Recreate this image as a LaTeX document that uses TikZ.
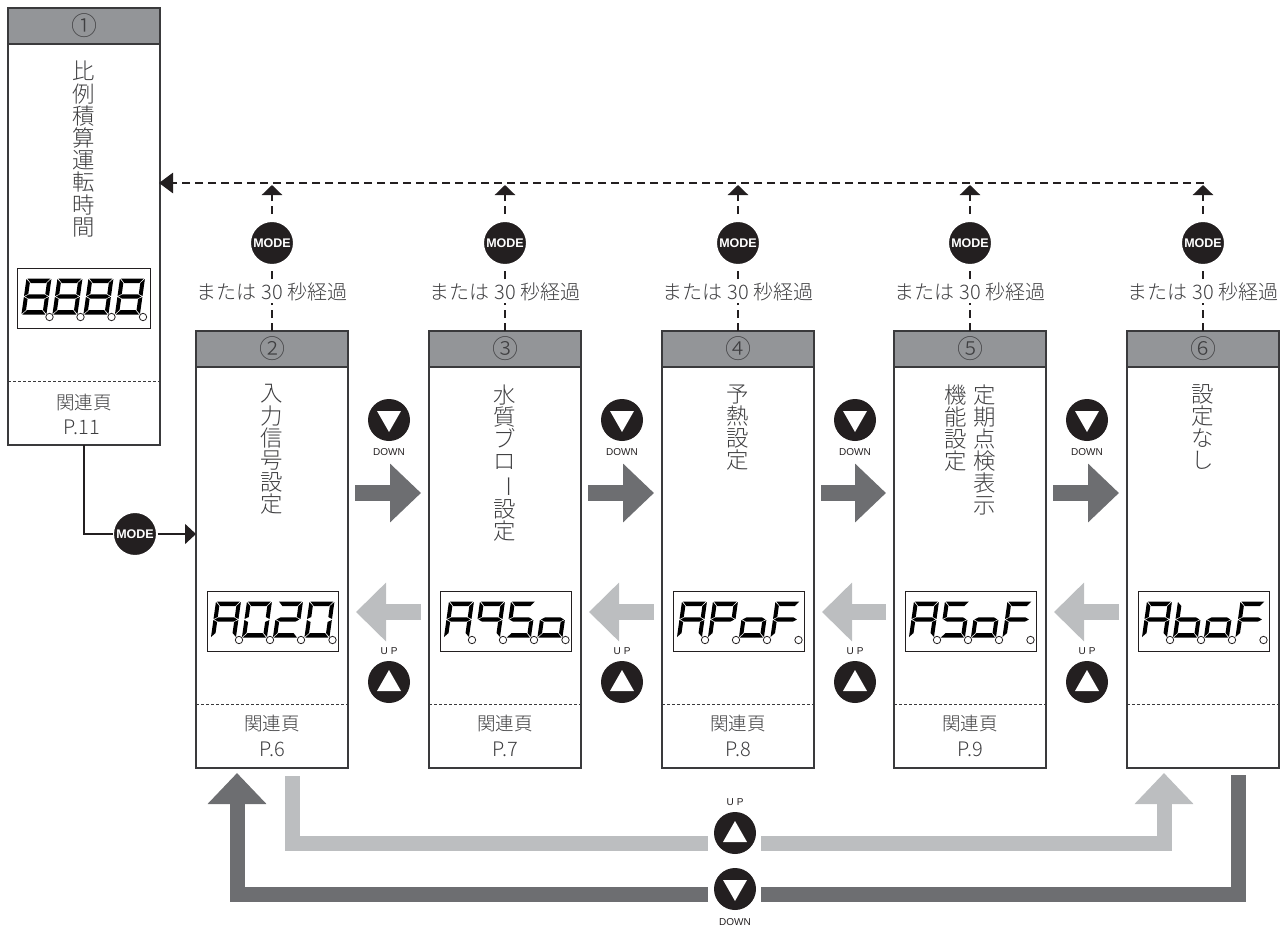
\documentclass[tikz,border=0pt]{standalone}
\usepackage{fontspec}
\setmainfont{Noto Sans CJK JP Light}
\newfontfamily\latinf{Liberation Sans}
\usetikzlibrary{arrows.meta,calc,backgrounds}
\definecolor{dkline}{HTML}{3A3A3C}
\definecolor{hdr}{HTML}{939598}
\definecolor{darkar}{HTML}{6D6E71}
\definecolor{lightar}{HTML}{BCBEC0}
\definecolor{txt}{HTML}{3F3F41}
\definecolor{blk}{HTML}{231F20}
\tikzset{
  x=1pt,y=-1pt,
  panel/.style={draw=dkline,line width=1.2,fill=white,minimum width=152,minimum height=437,anchor=north west,inner sep=0,outer sep=0},
  head/.style={draw=dkline,line width=1.2,fill=hdr,minimum width=152,minimum height=36,anchor=north west,inner sep=0,outer sep=0,text=txt,font=\fontsize{26}{26}\selectfont},
  dispbox/.style={draw=blk,line width=.8,fill=white,minimum height=60,anchor=north west,inner sep=0,outer sep=0},
  vtext/.style={anchor=north,align=center,inner sep=0,text=txt,font=\fontsize{22.4}{22.1}\selectfont},
  reftext/.style={text=txt,inner sep=0,font=\fontsize{18.5}{18.5}\selectfont},
  pagetext/.style={text=txt,inner sep=0,font=\fontsize{20}{20}\selectfont},
  dotted sep/.style={draw=dkline,line width=1,dash pattern=on 3pt off 2pt},
  modebtn/.style={circle,fill=blk,draw=white,line width=3,minimum size=45,inner sep=0,outer sep=0,text=white,font=\latinf\bfseries\fontsize{12.5}{12.5}\selectfont},
  keybtn/.style={circle,fill=blk,minimum size=42,inner sep=0,outer sep=0},
  keylabel/.style={inner sep=0,text=blk,font=\latinf\fontsize{10}{10}\selectfont},
  timeout/.style={fill=white,inner sep=1.5,text=txt,font=\fontsize{20}{20}\selectfont},
  dashline/.style={draw=blk,line width=2.8,dash pattern=on 8pt off 5pt},
  tinyhead/.style={-{Triangle[length=10pt,width=20pt]}},
  dnar/.style={draw=darkar,line width=16,-{Triangle[length=31pt,width=57pt,fill=darkar]},shorten <=7,shorten >=8},
  upar/.style={draw=lightar,line width=16,-{Triangle[length=30pt,width=57pt,fill=lightar]},shorten <=8,shorten >=8},
  dnlong/.style={draw=darkar,line width=15,-{Triangle[length=31pt,width=57pt,fill=darkar]}},
  uplong/.style={draw=lightar,line width=15,-{Triangle[length=31pt,width=57pt,fill=lightar]}},
  segfill/.style={fill=black},
}
\newcommand\sega{\fill[segfill] (1,-35.5)--(24,-35.5)--(20,-31)--(5,-31)--cycle;}
\newcommand\segd{\fill[segfill] (1,.5)--(24,.5)--(20,-4)--(5,-4)--cycle;}
\newcommand\segf{\fill[segfill] (0,-35)--(4,-31)--(4,-20)--(0,-18)--cycle;}
\newcommand\sege{\fill[segfill] (0,-17)--(4,-15)--(4,-4)--(0,0)--cycle;}
\newcommand\segb{\fill[segfill] (25,-35)--(21,-31)--(21,-20)--(25,-18)--cycle;}
\newcommand\segc{\fill[segfill] (25,-17)--(21,-15)--(21,-4)--(25,0)--cycle;}
\newcommand\segg{\fill[segfill] (1,-17.5)--(5,-19.7)--(20,-19.7)--(24,-17.5)--(20,-15.3)--(5,-15.3)--cycle;}
\newcommand\onedigit[3]{\begin{scope}[shift={(#1,#2)},xslant=0.14]
  \foreach \s in {#3}{\csname seg\s\endcsname}\end{scope}
  \filldraw[fill=white,draw=blk,line width=.8] (#1+28,#2+3) circle (3.7pt);}
% name, x, y, width, digits
\newcommand\display[8]{\node[dispbox,minimum width=#4] (#1) at (#2,#3) {};
  \onedigit{#2+4}{#3+46}{#5}\onedigit{#2+35}{#3+46}{#6}\onedigit{#2+66}{#3+46}{#7}\onedigit{#2+97.5}{#3+46}{#8}}
% name, x, number
\newcommand\stage[3]{\node[panel] (b#1) at (#2,331) {};
  \node[head] (h#1) at (#2,331) {#3};
  \draw[dotted sep] ($(b#1.south west)+(0,-64)$) -- ($(b#1.south east)+(0,-64)$);}
\newcommand\upkey[3]{\node[#3] (#1) at (#2) {};
  \fill[white,shift={(#1)}] (-12,9)--(12,9)--(0,-12)--cycle;}
\newcommand\dnkey[3]{\node[#3] (#1) at (#2) {};
  \fill[white,shift={(#1)}] (-12,-9)--(12,-9)--(0,12)--cycle;}
\begin{document}
\begin{tikzpicture}
\useasboundingbox (0,0) rectangle (1286,926);
\coordinate (ym) at (0,185);
\coordinate (yd) at (0,493);
\coordinate (yu) at (0,612);
% panel 1
\node[panel,minimum width=152,minimum height=437] (b1) at (8,8) {};
\node[head] (h1) at (8,8) {①};
\draw[dotted sep] (8,381) -- (160,381);
\node[vtext,font=\fontsize{22.4}{22.2}\selectfont] (t1) at (84,61) {比\\例\\積\\算\\運\\転\\時\\間};
\display{d1}{17.5}{268}{133}{a,b,c,d,e,f,g}{a,b,c,d,e,f,g}{a,b,c,d,e,f,g}{a,b,c,d,e,f,g}
\node[reftext] (r1) at (84,402) {関連頁};
\node[pagetext] (p1) at (82,427) {P.11};
% panels 2-6
\stage{2}{196}{②}
\stage{3}{429}{③}
\stage{4}{662}{④}
\stage{5}{894}{⑤}
\stage{6}{1127}{⑥}
\node[vtext] (t2) at (h2 |- 0,384.5) {入\\力\\信\\号\\設\\定};
\node[vtext] (t3) at (h3 |- 0,384.5) {水\\質\\ブ\\ロ\\\rotatebox[origin=c]{-90}{ー}\\設\\定};
\node[vtext] (t4) at (h4 |- 0,384.5) {予\\熱\\設\\定};
\node[vtext] (t5) at (985,384.5) {定\\期\\点\\検\\表\\示};
\node[vtext] (t5b) at (956,384.5) {機\\能\\設\\定};
\node[vtext] (t6) at (h6 |- 0,384.5) {設\\定\\な\\し};
\display{d2}{207}{591}{131}{a,b,c,e,f,g}{a,b,c,d,e,f}{a,b,d,e,g}{a,b,c,d,e,f}
\display{d3}{440}{591}{131}{a,b,c,e,f,g}{a,b,c,f,g}{a,c,d,f,g}{c,d,e,g}
\display{d4}{673}{591}{131}{a,b,c,e,f,g}{a,b,e,f,g}{c,d,e,g}{a,e,f,g}
\display{d5}{905}{591}{131}{a,b,c,e,f,g}{a,c,d,f,g}{c,d,e,g}{a,e,f,g}
\display{d6}{1138}{591}{131}{a,b,c,e,f,g}{c,d,e,f,g}{c,d,e,g}{a,e,f,g}
\foreach \n/\pg in {2/P.6,3/P.7,4/P.8,5/P.9}{
  \node[reftext] (r\n) at ($(b\n.south)+(0,-45)$) {関連頁};
  \node[pagetext] (p\n) at ($(b\n.south)+(0,-19)$) {\pg};
}
% MODE columns
\coordinate (mainr) at (1204,183);
\draw[dashline,-{Triangle[length=14pt,width=20pt]},shorten >=-1] (mainr) -- (mainr -| b1.east);
\foreach \n in {2,3,4,5,6}{
  \draw[dashline,tinyhead] (h\n.north) -- (h\n.north |- ym);
  \node[modebtn] (m\n) at ($(h\n.north)+(0,-88)$) {MODE};
  \node[timeout] (o\n) at ($(h\n.north)+(0,-39)$) {または 30 秒経過};
}
% panel 1 to panel 2
\node[modebtn] (m1) at (135,534) {MODE};
\draw[blk,line width=2.4] (b1.south -| 84,0) |- (m1.west);
\draw[blk,line width=1.6,-{Triangle[length=11pt,width=20pt]}] (m1.east) -- (m1.east -| b2.west);
% arrows between panels
\foreach \a/\b in {2/3,3/4,4/5,5/6}{
  \draw[dnar] (b\a.east |- yd) -- (b\b.west |- yd);
  \draw[upar] (b\b.west |- yu) -- (b\a.east |- yu);
}
\foreach \a/\cx in {2/389,3/622,4/855,5/1087}{
  \dnkey{kd\a}{\cx,420}{keybtn}
  \node[keylabel] (ld\a) at (\cx,452) {DOWN};
  \node[keylabel] (lu\a) at (\cx,651) {U\hspace{3pt}P};
  \upkey{ku\a}{\cx,682}{keybtn}
}
% long return arrows
\coordinate (upl) at (292.5,776);
\coordinate (uph) at (1164,773);
\coordinate (dnr) at (1238.5,775);
\coordinate (dnh) at (237,773);
\coordinate (upcl) at (708,843.5);
\coordinate (upcr) at (761,843.5);
\coordinate (dncl) at (708,894.5);
\coordinate (dncr) at (761,894.5);
\draw[line width=15,lightar] (upl) |- (upcl);
\draw[uplong] (upcr) -| (uph);
\draw[line width=15,darkar] (dnr) |- (dncr);
\draw[dnlong] (dncl) -| (dnh);
\upkey{kup}{735,833}{keybtn}
\dnkey{kdn}{735,889}{keybtn}
\node[keylabel] (lup) at (735,802) {U\hspace{3pt}P};
\node[keylabel] (ldn) at (735,922) {DOWN};
\end{tikzpicture}
\end{document}
